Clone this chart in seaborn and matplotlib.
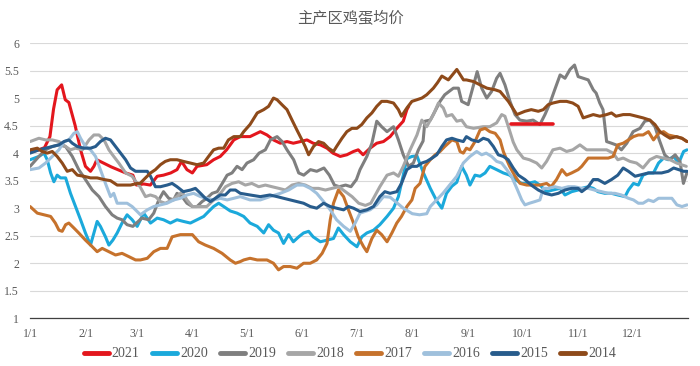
import pandas as pd
import matplotlib
matplotlib.use('Agg')
import matplotlib.pyplot as plt
import seaborn as sns

# 主产区鸡蛋均价 (元/斤), (day of year, price)
p2021 = [(0,4.02),(4,4.05),(8,4.1),(11,4.3),(13,4.8),(15,5.15),(17.5,5.24),(19.5,4.97),(21.5,4.92),(25,4.5),
         (28,4.06),(30.7,3.76),(33.5,3.67),(35.4,3.76),(37,3.88),(45,3.75),(53,3.64),(57,3.6),(59,3.42),(63,3.44),
         (66.7,3.42),(70.5,3.58),(74,3.6),(78,3.64),(81.5,3.7),(84,3.85),(87,3.7),(90,3.64),(92.6,3.76),(98,3.79),
         (101.8,3.88),(105.5,3.94),(109,4.06),(113,4.24),(116.6,4.3),(122,4.3),(127.7,4.39),(131.4,4.33),(135,4.24),
         (138.8,4.18),(142.5,4.21),(146,4.18),(150,4.21),(153.6,4.24),(157,4.18),(161,4.15),(164.7,4.09),(168,4.0),
         (172,3.94),(175.7,3.97),(179.4,4.03),(182,4.06),(184.7,3.97),(188.6,4.09),(192.3,4.18),(196,4.21),
         (199.7,4.3),(203.4,4.45),(207,4.58),(209,4.79),(210,4.85)]
p2021_oct = [(266.6,4.52),(290,4.52)]

p2020 = [(0,3.88),(4.9,3.94),(7.7,4.0),(9.5,3.88),(11.4,3.64),(13.2,3.48),(15,3.6),(16.9,3.55),(19.7,3.55),
         (22.4,3.27),(25.2,3.03),(28,2.79),(30.7,2.55),(33.5,2.33),(35.4,2.55),(37.2,2.76),(39,2.67),(41.8,2.48),
         (43.7,2.33),(45.9,2.42),(48.3,2.55),(51,2.73),(53.8,2.88),(56.6,2.79),(59.4,2.67),(63,2.91),(66.8,2.73),
         (70.5,2.82),(74,2.79),(77.8,2.73),(81.5,2.79),(85,2.76),(88.9,2.73),(92.6,2.79),(96.3,2.85),(99,2.94),
         (101.8,3.03),(104.6,3.09),(107.4,3.03),(111,2.95),(114.8,2.91),(118.5,2.85),(122,2.73),(126,2.67),
         (129.6,2.55),(132.3,2.7),(135,2.6),(137.8,2.55),(140.6,2.36),(143.4,2.52),(146,2.39),(149,2.48),
         (151.7,2.55),(154.5,2.58),(157,2.48),(161,2.39),(164.7,2.42),(168.3,2.45),(171,2.64),(173.9,2.52),
         (177.6,2.39),(181.3,2.3),(184,2.48),(186.8,2.55),(190.5,2.6),(194,2.7),(198,2.85),(201.6,3.0),
         (204.3,3.21),(207,3.6),(209,3.9),(211.8,3.94),(214.6,3.95),(216.3,3.8),(218.2,3.64),(222,3.36),
         (225.6,3.13),(228.4,3.0),(231,3.27),(234,3.4),(236.7,3.47),(239.4,3.76),(242,3.6),(244,3.42),
         (246.8,3.6),(249.6,3.58),(252.4,3.64),(255,3.76),(258.8,3.7),(262.5,3.64),(266,3.6),(269,3.52),
         (272.7,3.45),(276,3.45),(280,3.48),(282.8,3.42),(286.5,3.3),(290,3.33),(294,3.36),(296.7,3.24),
         (300.4,3.3),(304,3.33),(306,3.36),(309.6,3.39),(312.4,3.36),(315,3.3),(318.8,3.27),(322.5,3.27),
         (326,3.24),(330,3.21),(331.9,3.33),(334.7,3.45),(337.4,3.42),(340,3.6),(343,3.64),(345.8,3.64),
         (348.6,3.82),(351.4,3.91),(354,3.88),(357,3.94),(359.8,3.82),(362.5,4.03),(364.4,4.06)]

p2019 = [(0,3.76),(4.9,3.94),(8.6,4.06),(12.3,4.12),(16,4.15),(19.7,4.12),(23.4,3.94),(27,3.7),(30.7,3.52),
         (34.5,3.33),(38.2,3.21),(41.8,3.03),(45.5,2.88),(48.3,2.82),(51,2.79),(53.8,2.7),(57,2.67),(62,2.82),
         (65.8,2.79),(68.6,2.91),(71.4,3.15),(74,3.3),(76.9,3.18),(79.6,3.15),(81.5,3.27),(84.3,3.21),(87,3.09),
         (90,3.03),(92.6,3.03),(95.4,3.12),(98,3.18),(101,3.27),(103.8,3.3),(106.6,3.45),(109.3,3.6),(112,3.64),
         (114.8,3.76),(117.6,3.7),(120.3,3.82),(124,3.88),(127,4.0),(130.5,4.06),(133.3,4.24),(137,4.3),
         (139.8,4.21),(142.5,4.06),(146.2,3.88),(149,3.64),(151.8,3.6),(155.5,3.7),(159,3.67),(163,3.73),
         (166,3.6),(168.8,3.42),(171.5,3.39),(175,3.42),(178,3.39),(181,3.52),(183,3.7),(186.8,3.94),
         (189.6,4.18),(192.3,4.58),(195,4.48),(198,4.39),(201.6,4.48),(204.3,4.24),(207,3.97),(210,3.76),
         (212.6,3.82),(215.4,4.06),(218,4.22),(219,4.58),(222,4.6),(224.6,4.76),(227.4,4.94),(230,5.06),
         (234.8,5.18),(237.6,5.18),(239.4,4.94),(243,4.88),(246,5.24),(248,5.48),(250.5,5.18),(253.3,5.0),
         (256,5.12),(258.8,5.36),(260.7,5.45),(263.4,5.24),(266.2,4.94),(269,4.7),(271.7,4.6),(275.5,4.58),
         (279,4.6),(282.8,4.52),(285.6,4.7),(288.4,4.91),(291,5.15),(294,5.42),(296.7,5.36),(299.5,5.52),
         (302,5.6),(304,5.39),(306.8,5.36),(309.6,5.33),(312.4,5.15),(314,5.09),(316,4.91),(317.8,4.79),
         (319.8,4.21),(322.5,4.18),(325,4.15),(328,4.06),(331,4.18),(334.5,4.39),(338.3,4.45),(341,4.58),
         (343.8,4.6),(346.6,4.48),(349,4.24),(352,3.97),(355,3.88),(357.8,3.97),(360.5,3.85),(362.4,3.45),
         (364.3,3.64)]

p2018 = [(0,4.21),(4.9,4.27),(8.6,4.24),(12.3,4.24),(16,4.21),(19.7,4.12),(22.4,4.06),(25.2,4.09),(29,4.06),
         (32.7,4.24),(35.4,4.33),(38.2,4.33),(41,4.24),(43.7,4.06),(46.4,3.94),(49.2,3.82),(53,3.64),(56.6,3.58),
         (59.4,3.45),(61,3.39),(64,3.21),(66.7,3.24),(69.6,3.21),(72.3,3.12),(75,3.09),(78.8,3.15),(81.5,3.21),
         (84.3,3.3),(87,3.15),(90,3.03),(94,3.03),(98,3.03),(101.9,3.15),(105.6,3.27),(108.4,3.39),(112,3.45),
         (115.7,3.48),(119.4,3.42),(123,3.45),(126.8,3.39),(130.5,3.42),(134.2,3.39),(138,3.36),(141.6,3.33),
         (145.3,3.42),(149,3.45),(152.7,3.42),(156.4,3.36),(160,3.36),(163.8,3.33),(167.5,3.36),(171.2,3.39),
         (174.9,3.3),(178.6,3.21),(182.3,3.09),(186,3.05),(189,3.09),(194,3.39),(198,3.6),(201.6,3.64),
         (204.3,3.58),(207,3.76),(210.8,4.06),(214.6,4.33),(217.3,4.6),(220,4.48),(223.7,4.7),(226.5,4.91),
         (229.2,4.82),(231,4.67),(234,4.7),(236.7,4.58),(239.4,4.6),(242,4.48),(246,4.45),(251.3,4.48),
         (255,4.48),(258.8,4.55),(261.6,4.7),(263.4,4.67),(265.3,4.48),(268,4.2),(270,4.06),(273.6,3.91),
         (277,3.88),(281,3.82),(283.8,3.73),(286.5,3.85),(290,4.06),(294,4.09),(297.6,4.03),(301,4.06),
         (305,4.15),(308.7,4.06),(312.4,4.06),(316,4.06),(319.8,4.06),(323.4,4.0),(326,3.88),(329,3.91),
         (332.7,3.85),(336.4,3.82),(340,3.73),(343.8,3.88),(347.5,3.94),(351,3.91),(355,3.88),(358.6,3.82),
         (364,3.76)]

p2017 = [(0,3.03),(4,2.91),(7.7,2.88),(11.4,2.85),(14,2.73),(16,2.6),(17.8,2.58),(19.7,2.7),(21.5,2.73),
         (24.3,2.64),(27,2.55),(30.7,2.42),(34.5,2.3),(37.2,2.21),(40,2.27),(43.7,2.21),(47.4,2.15),(51,2.18),
         (54.8,2.12),(58.5,2.06),(61.2,2.06),(65,2.09),(68.6,2.21),(72.3,2.27),(76,2.27),(78.8,2.48),(83.4,2.52),
         (87,2.52),(90,2.52),(93.5,2.39),(97.2,2.33),(101.8,2.27),(106.5,2.18),(111,2.06),(113.9,2.0),
         (116.6,2.03),(118.5,2.06),(122,2.09),(126,2.06),(131.4,2.06),(135,2.0),(137.8,1.88),(140.6,1.94),
         (144.3,1.94),(148,1.91),(151.7,2.0),(155.4,2.0),(159,2.06),(162,2.18),(164.7,2.36),(166.5,2.79),
         (168.3,3.09),(171,3.33),(173.9,3.21),(176.6,2.97),(179.4,2.73),(182,2.48),(185,2.3),(186.8,2.21),
         (189.6,2.45),(192.3,2.6),(195,2.52),(198,2.39),(200.7,2.55),(203.4,2.73),(206,2.85),(209,3.03),
         (211.8,3.15),(213.6,3.36),(216.3,3.45),(219,3.76),(222,3.88),(224.7,3.97),(227.4,4.03),(230,4.12),
         (234,4.24),(236.7,4.21),(238.5,4.03),(240.3,4.0),(242,4.09),(244,4.06),(246.8,4.21),(249.6,4.42),
         (252.4,4.45),(255,4.39),(258,4.36),(260.7,4.24),(262.5,4.03),(264.4,3.88),(266,3.76),(269,3.58),
         (271.8,3.45),(275.5,3.42),(279,3.42),(282.8,3.42),(286.5,3.45),(289,3.39),(292,3.52),(295,3.7),
         (297.6,3.6),(300.4,3.64),(304,3.7),(306,3.76),(309.6,3.91),(313.3,3.91),(317,3.91),(320.7,3.91),
         (323.4,3.94),(326,4.15),(329,4.18),(331.9,4.24),(334.7,4.3),(337.4,4.33),(340,4.33),(343,4.39),
         (345.8,4.24),(348.6,4.36),(351.4,4.39),(354,4.33),(358,4.3),(361.6,4.27),(364.4,4.21)]

p2016 = [(0,3.7),(4.9,3.73),(8.6,3.82),(12.3,3.94),(16,4.06),(18.8,4.21),(21.5,4.24),(24.3,4.36),(26.2,4.39),
         (28,4.27),(30.7,4.12),(33.5,4.06),(36.3,3.94),(39,3.7),(41.8,3.45),(44.6,3.21),(46.4,3.27),(48.3,3.09),
         (51,3.09),(53.8,3.09),(56.6,3.03),(59.4,2.94),(61.2,2.88),(65,2.97),(68.6,3.03),(72.3,3.06),(76,3.09),
         (79.7,3.15),(83.4,3.18),(87,3.24),(90.7,3.27),(94.5,3.21),(98,3.18),(101.8,3.15),(105.5,3.18),
         (109.3,3.15),(113,3.18),(116.6,3.21),(122,3.15),(127.7,3.15),(133,3.21),(138.8,3.27),(143.4,3.33),
         (148,3.42),(151.7,3.42),(155.4,3.36),(159,3.27),(162.8,3.12),(166.5,2.97),(170,2.79),(173.9,2.67),
         (177.6,2.58),(180.3,2.73),(183,2.91),(185.8,2.94),(188.6,2.97),(192.3,3.06),(196,3.21),(199.7,3.2),
         (203.4,3.1),(207,3.0),(212,2.9),(216,2.88),(220,2.9),(222,3.03),(229,3.27),(236.7,3.58),(240.3,3.82),
         (244,3.94),(247.7,4.03),(250.5,3.97),(253,4.0),(256,3.94),(258.8,3.85),(261.6,3.82),(264.4,3.7),
         (267,3.58),(270,3.36),(272.7,3.15),(274.5,3.06),(277,3.09),(280,3.12),(282.8,3.15),(284.7,3.36),
         (287.4,3.36),(291,3.39),(295,3.36),(298.5,3.39),(302,3.39),(306,3.36),(309.6,3.36),(313,3.33),
         (317,3.3),(320.7,3.27),(324.4,3.27),(328,3.24),(331.9,3.18),(334.7,3.15),(337.4,3.09),(340,3.09),
         (343,3.15),(345.8,3.12),(348.6,3.18),(352.3,3.18),(356,3.18),(358.8,3.06),(361.6,3.03),(364.4,3.06)]

p2015 = [(0,4.0),(4.9,4.06),(8.6,4.09),(12.3,4.12),(16,4.15),(18.8,4.21),(21.5,4.24),(23.4,4.18),(26.2,4.12),
         (29.8,4.09),(33.5,4.09),(36.3,4.12),(39,4.21),(41.8,4.27),(44.6,4.24),(47.4,4.12),(50.2,4.0),(53,3.88),
         (55.7,3.73),(58.5,3.67),(61.2,3.67),(65,3.67),(66.8,3.58),(69.5,3.39),(72.3,3.39),(76,3.42),(78.8,3.45),
         (81.5,3.39),(85,3.3),(89,3.33),(91.7,3.36),(94.5,3.27),(97.2,3.18),(100,3.12),(102.8,3.18),(105.5,3.24),
         (108.3,3.24),(111,3.33),(113.9,3.33),(116.6,3.27),(122,3.24),(127.7,3.21),(133,3.24),(137,3.21),
         (140.6,3.18),(144.3,3.15),(148,3.12),(151.7,3.09),(155.4,3.03),(159,3.0),(162.8,3.09),(166.5,3.03),
         (170,3.0),(173.9,2.97),(176.6,3.03),(179.4,3.0),(183,2.94),(186.8,2.97),(190.5,3.03),(194,3.21),
         (196.8,3.3),(199.7,3.27),(203.4,3.3),(206,3.45),(209,3.7),(211.8,3.76),(214.6,3.76),(217.3,3.82),
         (220,3.85),(223,3.91),(225.6,3.97),(228.4,4.12),(231,4.24),(234,4.27),(236.7,4.24),(240.3,4.21),
         (242,4.3),(245,4.24),(248.6,4.21),(251.4,4.27),(254.2,4.24),(257,4.12),(259.7,3.97),(262.5,3.94),
         (265.2,3.88),(268,3.73),(270.8,3.6),(274.5,3.52),(278,3.42),(281.9,3.33),(285.6,3.27),(289.3,3.24),
         (293,3.27),(296.7,3.33),(300.4,3.36),(304,3.36),(306,3.3),(309.6,3.39),(312.4,3.52),(315,3.52),
         (318.8,3.45),(322.5,3.52),(326,3.6),(329,3.73),(331.9,3.67),(335.6,3.58),(339.3,3.61),(343,3.64),
         (346.8,3.64),(350.3,3.64),(354,3.67),(357,3.73),(359.8,3.7),(362.5,3.67),(364.4,3.67)]

p2014 = [(0,4.06),(4,4.09),(6.7,4.03),(9.5,4.0),(12.3,4.03),(15,3.94),(17.8,3.82),(20.6,3.67),(23.4,3.7),
         (26.2,3.6),(29.8,3.58),(33.5,3.55),(37.2,3.55),(41,3.52),(44.6,3.5),(48.3,3.42),(52,3.42),(55.7,3.42),
         (59.4,3.45),(61,3.45),(64,3.55),(66.8,3.64),(69.5,3.7),(72.3,3.79),(75,3.85),(77.8,3.88),(81.5,3.88),
         (85,3.85),(88.9,3.82),(92.6,3.79),(96.3,3.82),(99,3.94),(101.8,4.06),(104.6,4.09),(107.4,4.09),
         (110,4.24),(113,4.3),(116.6,4.3),(118.5,4.39),(122,4.52),(126,4.73),(129.6,4.79),(132.3,4.85),
         (135,5.0),(137,4.97),(139.7,4.88),(142.5,4.79),(145.3,4.6),(148,4.42),(150.8,4.24),(152.6,4.12),
         (154.5,3.97),(157.2,4.12),(160,4.21),(162.8,4.18),(165.5,4.09),(168.3,4.03),(170,4.12),(173,4.27),
         (175.7,4.39),(178.5,4.45),(181.3,4.45),(184,4.52),(186.8,4.64),(189.6,4.73),(192.3,4.85),(195,4.94),
         (198,4.94),(201.6,4.91),(204.3,4.79),(206,4.67),(209,4.82),(211.8,4.94),(214.6,4.97),(217.3,5.0),
         (220,5.06),(223.7,5.18),(226,5.28),(228.4,5.4),(232,5.33),(236.7,5.52),(240.4,5.33),(242,5.33),
         (246,5.3),(249.6,5.24),(253.4,5.18),(258,5.15),(260.7,5.12),(265.3,4.94),(270,4.7),(274.5,4.76),
         (278,4.79),(281.9,4.76),(284.7,4.79),(287.4,4.88),(290,4.91),(294,4.94),(297.6,4.94),(301,4.91),
         (304,4.85),(306.8,4.64),(309.6,4.67),(312.4,4.7),(316,4.67),(319.8,4.7),(322.5,4.73),(325,4.67),
         (329,4.7),(332.7,4.7),(336.4,4.67),(340,4.64),(343.8,4.6),(346.6,4.52),(349.4,4.39),(352,4.33),
         (355,4.27),(358.6,4.3),(361.6,4.27),(364.4,4.21)]

years = ['2021', '2020', '2019', '2018', '2017', '2016', '2015', '2014']
series = [p2021, p2020, p2019, p2018, p2017, p2016, p2015, p2014]
colors = ['#E3161D', '#1BA9DB', '#7F7F7F', '#A6A6A6', '#C6722C', '#9FC0DC', '#285C8C', '#8E4A1A']

month_days = [0, 31, 59, 90, 120, 151, 181, 212, 243, 273, 304, 334, 365]
month_labels = ['1/1', '2/1', '3/1', '4/1', '5/1', '6/1', '7/1', '8/1', '9/1', '10/1', '11/1', '12/1', '']
y_ticks = [1, 1.5, 2, 2.5, 3, 3.5, 4, 4.5, 5, 5.5, 6]
y_labels = ['1', '1.5', '2', '2.5', '3', '3.5', '4', '4.5', '5', '5.5', '6']

sns.set_style('white')
plt.rcParams['font.family'] = ['Noto Sans CJK SC', 'DejaVu Sans']

fig = plt.figure(figsize=(7, 3.66), dpi=100)
ax = fig.add_axes([0.043, 0.1303, 0.94, 0.7522])

for yr, pts, c in zip(years, series, colors):
    d = pd.DataFrame(pts, columns=['day', 'price'])
    sns.lineplot(data=d, x='day', y='price', ax=ax, color=c, lw=2.2, label=yr, legend=False)
# 2021 10月那一小段
d = pd.DataFrame(p2021_oct, columns=['day', 'price'])
sns.lineplot(data=d, x='day', y='price', ax=ax, color=colors[0], lw=2.6, legend=False)

ax.set_xlim(0, 365)
ax.set_ylim(1, 6)
ax.set_xlabel('')
ax.set_ylabel('')
ax.set_xticks(month_days)
ax.set_xticklabels(month_labels, family='Liberation Serif', fontsize=8.5, color='#595959')
ax.set_yticks(y_ticks)
ax.set_yticklabels(y_labels, family='Liberation Serif', fontsize=8.5, color='#595959')
ax.tick_params(axis='x', direction='out', length=4, width=0.8, color='#404040', pad=3)
ax.tick_params(axis='y', length=0, pad=8)
ax.yaxis.grid(True, color='#D9D9D9', lw=0.8)
ax.set_axisbelow(True)
for s in ['left', 'top', 'right']:
    ax.spines[s].set_visible(False)
ax.spines['bottom'].set_color('#404040')
ax.spines['bottom'].set_linewidth(0.9)

fig.text(0.5, 0.953, '主产区鸡蛋均价', ha='center', va='center', fontsize=11, color='#595959',
         fontweight='light')

h, l = ax.get_legend_handles_labels()
leg = fig.legend(h[:8], l[:8], loc='center', bbox_to_anchor=(0.5, 0.033), ncol=8, frameon=False,
                 handlelength=1.8, handletextpad=0.2, columnspacing=0.9,
                 prop={'family': 'Liberation Serif', 'size': 10})
for t in leg.get_texts():
    t.set_color('#595959')
for ln in leg.get_lines():
    ln.set_linewidth(3.5)

fig.savefig('out.png', dpi=100)
